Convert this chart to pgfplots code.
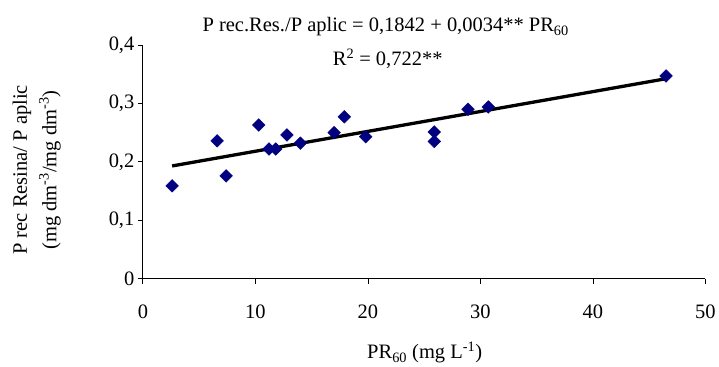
\documentclass[border=0pt]{standalone}
\usepackage{fontspec}
\setmainfont{Liberation Serif}
\usepackage{pgfplots}
\pgfplotsset{compat=1.18}
\definecolor{navyblue}{RGB}{0,0,128}
\newcommand{\fs}{\fontsize{20.5}{24}\selectfont}
\begin{document}
\begin{tikzpicture}[x=1pt,y=1pt]
\path (0,0) rectangle (719,367);
\begin{axis}[
  at={(143pt,88pt)}, anchor=south west,
  width=563pt, height=234pt, scale only axis,
  xmin=0, xmax=50, ymin=0, ymax=0.4,
  xtick={0,10,20,30,40,50},
  ytick={0,0.1,0.2,0.3,0.4},
  axis x line=bottom, axis y line=left,
  axis line style={-, line width=0.8pt, black},
  tick align=outside, major tick length=5pt,
  tick style={black, line width=0.8pt},
  ticklabel style={font=\fs},
  /pgf/number format/assume math mode=true,
  yticklabel style={/pgf/number format/.cd, use comma, fixed, precision=1},
  xticklabel style={yshift=-18pt},
  clip=false,
]
\addplot[black, line width=3.3pt] coordinates {(2.6,0.1930) (46.6,0.3426)};
\addplot[only marks, mark=square*, mark size=4.5pt, mark options={rotate=45, fill=navyblue, draw=navyblue}] coordinates {
(2.6,0.159) (6.6,0.236) (7.4,0.176) (10.3,0.263) (11.2,0.222) (11.8,0.222)
(12.8,0.246) (14.0,0.232) (17.0,0.250) (17.9,0.277) (19.8,0.243)
(25.9,0.251) (25.9,0.235) (28.9,0.290) (30.7,0.294) (46.5,0.347)
};
\end{axis}
\node[font=\fs] at (386,340) {P rec.Res./P aplic = 0,1842 + 0,0034** PR\textsubscript{60}};
\node[font=\fs] at (388,308) {R\textsuperscript{2} = 0,722**};
\node[font=\fs, rotate=90] at (22,197) {P rec Resina/ P aplic};
\node[font=\fs, rotate=90] at (50,197) {(mg dm\textsuperscript{-3}/mg dm\textsuperscript{-3})};
\node[font=\fs] at (425,14) {PR\textsubscript{60} (mg L\textsuperscript{-1})};
\end{tikzpicture}
\end{document}
